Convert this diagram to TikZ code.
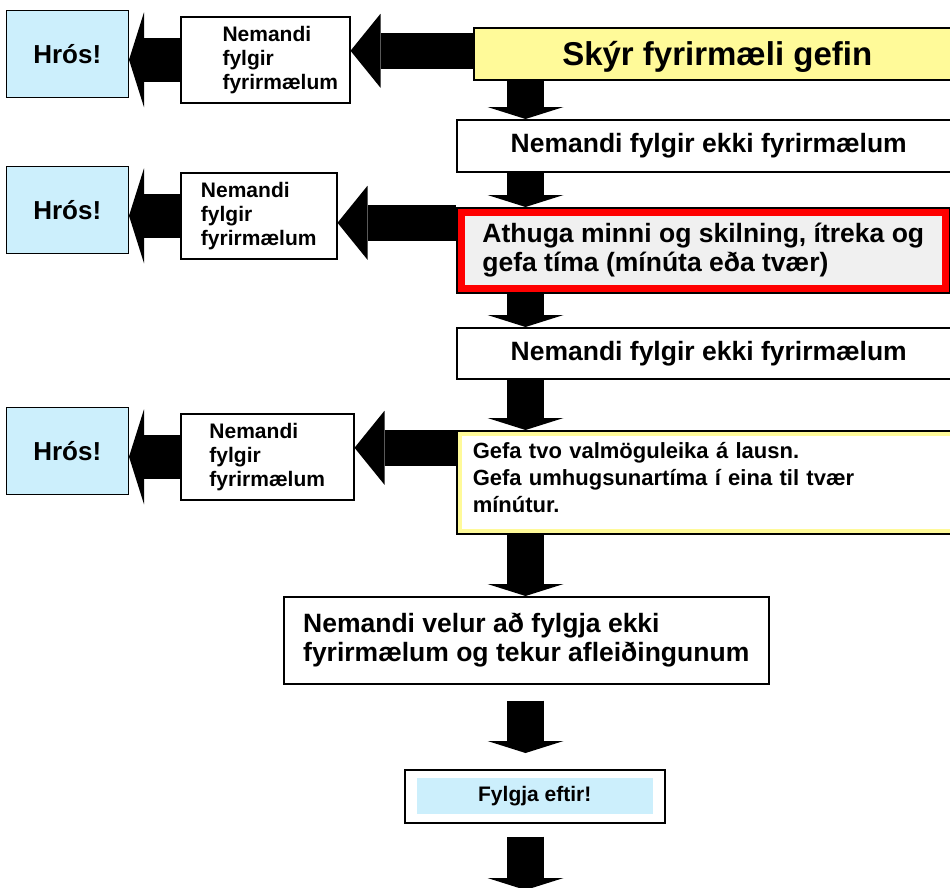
\documentclass[tikz,border=0pt]{standalone}
\usepackage{fontspec}
\setmainfont{Liberation Sans}
\usetikzlibrary{arrows.meta,positioning}

\begin{document}
\begin{tikzpicture}[x=1pt,y=-1pt,
  box/.style={draw,line width=1.5pt,fill=white,inner sep=0pt,anchor=north west},
  big/.style={font=\fontsize{26.5}{29}\selectfont\bfseries},
  small/.style={font=\fontsize{21}{24}\selectfont\bfseries,align=left},
  hros/.style={box,fill=cyan!20,minimum width=122pt,minimum height=87pt,font=\fontsize{26}{30}\selectfont\bfseries},
  dwn/.style={line width=37pt,-{Triangle[length=12pt,width=76pt,line width=0pt]}},
  lft/.style={line width=36pt,-{Triangle[length=30pt,width=74pt,line width=0pt]}},
  sml/.style={line width=44pt,-{Triangle[length=15pt,width=95pt,line width=0pt]}}]
	\useasboundingbox (0,0) rectangle (950,887);

	% main column
	\node[box,fill=yellow!40,minimum width=487pt,minimum height=52pt,text depth=0pt,font=\fontsize{33}{36}\selectfont\bfseries] (sky) at (473,27) {Skýr fyrirmæli gefin};
	\node[box,big,minimum width=504pt,minimum height=52pt] (nfkA) at (456,119) {Nemandi fylgir ekki fyrirmælum};
	\node[box,big,fill=gray!12,align=left,minimum width=493pt,minimum height=85pt,
	  path picture={\draw[red,line width=16pt] (path picture bounding box.north west) rectangle (path picture bounding box.south east);}]
	  (chk) at (456,207) {Athuga minni og skilning, ítreka og\\gefa tíma (mínúta eða tvær)};
	\node[box,big,minimum width=504pt,minimum height=51pt] (nfkB) at (456,327) {Nemandi fylgir ekki fyrirmælum};
	\node[box,font=\fontsize{22}{27}\selectfont\bfseries,align=left,text width=480pt,inner xsep=16pt,minimum height=103pt,text depth=64pt,
	  path picture={\draw[yellow!40,line width=10pt] (path picture bounding box.north west) rectangle (path picture bounding box.south east);}]
	  (opt) at (456,430) {Gefa tvo valmöguleika á lausn.\\Gefa umhugsunartíma í eina til tvær\\mínútur.};
	\node[box,big,align=left,minimum width=485pt,minimum height=87pt] (vel) at (283,596) {Nemandi velur að fylgja ekki\\fyrirmælum og tekur afleiðingunum};
	\node[box,minimum width=260pt,minimum height=53pt,font=\fontsize{21}{24}\selectfont\bfseries,
	  path picture={\fill[cyan!20] ([shift={(12pt,-8pt)}]path picture bounding box.north west) rectangle ([shift={(-12pt,9pt)}]path picture bounding box.south east);}]
	  (fol) at (404,769) {Fylgja eftir!};

	% side column
	\node[box,minimum width=169pt,minimum height=86pt] (nfA) at (180,16) {};
	\node[small,right=39pt of nfA.west] (nfAt) {Nemandi\\fylgir\\fyrirmælum};
	\node[box,small,minimum width=156pt,minimum height=86pt] (nfB) at (180,172) {Nemandi\\fylgir\\fyrirmælum};
	\node[box,small,minimum width=173pt,minimum height=86pt] (nfC) at (180,413) {Nemandi\\fylgir\\fyrirmælum};
	\node[hros,left=51pt of nfA,yshift=6pt] (hrA) {Hrós!};
	\node[hros,left=51pt of nfB,yshift=6pt] (hrB) {Hrós!};
	\node[hros,left=51pt of nfC,yshift=6pt] (hrC) {Hrós!};

	% arrows
	\coordinate (ax) at (525.5,0);
	\coordinate (out) at (525.5,890);
	\draw[dwn] (ax |- sky.south) -- (ax |- nfkA.north);
	\draw[dwn] (ax |- nfkA.south) -- (ax |- chk.north);
	\draw[dwn] (ax |- chk.south) -- (ax |- nfkB.north);
	\draw[dwn] (ax |- nfkB.south) -- (ax |- opt.north);
	\draw[dwn] (ax |- opt.south) -- (ax |- vel.north);
	\draw[dwn] ([yshift=-16pt]ax |- vel.south) -- ([yshift=16pt]ax |- fol.north);
	\draw[dwn] ([yshift=-13pt]ax |- fol.south) -- (out);

	\draw[lft] ([yshift=3pt]sky.west) -- ([yshift=3pt]sky.west -| nfA.east);
	\draw[lft] ([yshift=27.5pt]chk.west) -- ([yshift=27.5pt]chk.west -| nfB.east);
	\draw[lft] ([yshift=34.5pt]opt.west) -- ([yshift=34.5pt]opt.west -| nfC.east);

	\draw[sml] (nfA.west) -- (nfA.west -| hrA.east);
	\draw[sml] (nfB.west) -- (nfB.west -| hrB.east);
	\draw[sml] (nfC.west) -- (nfC.west -| hrC.east);
\end{tikzpicture}
\end{document}
